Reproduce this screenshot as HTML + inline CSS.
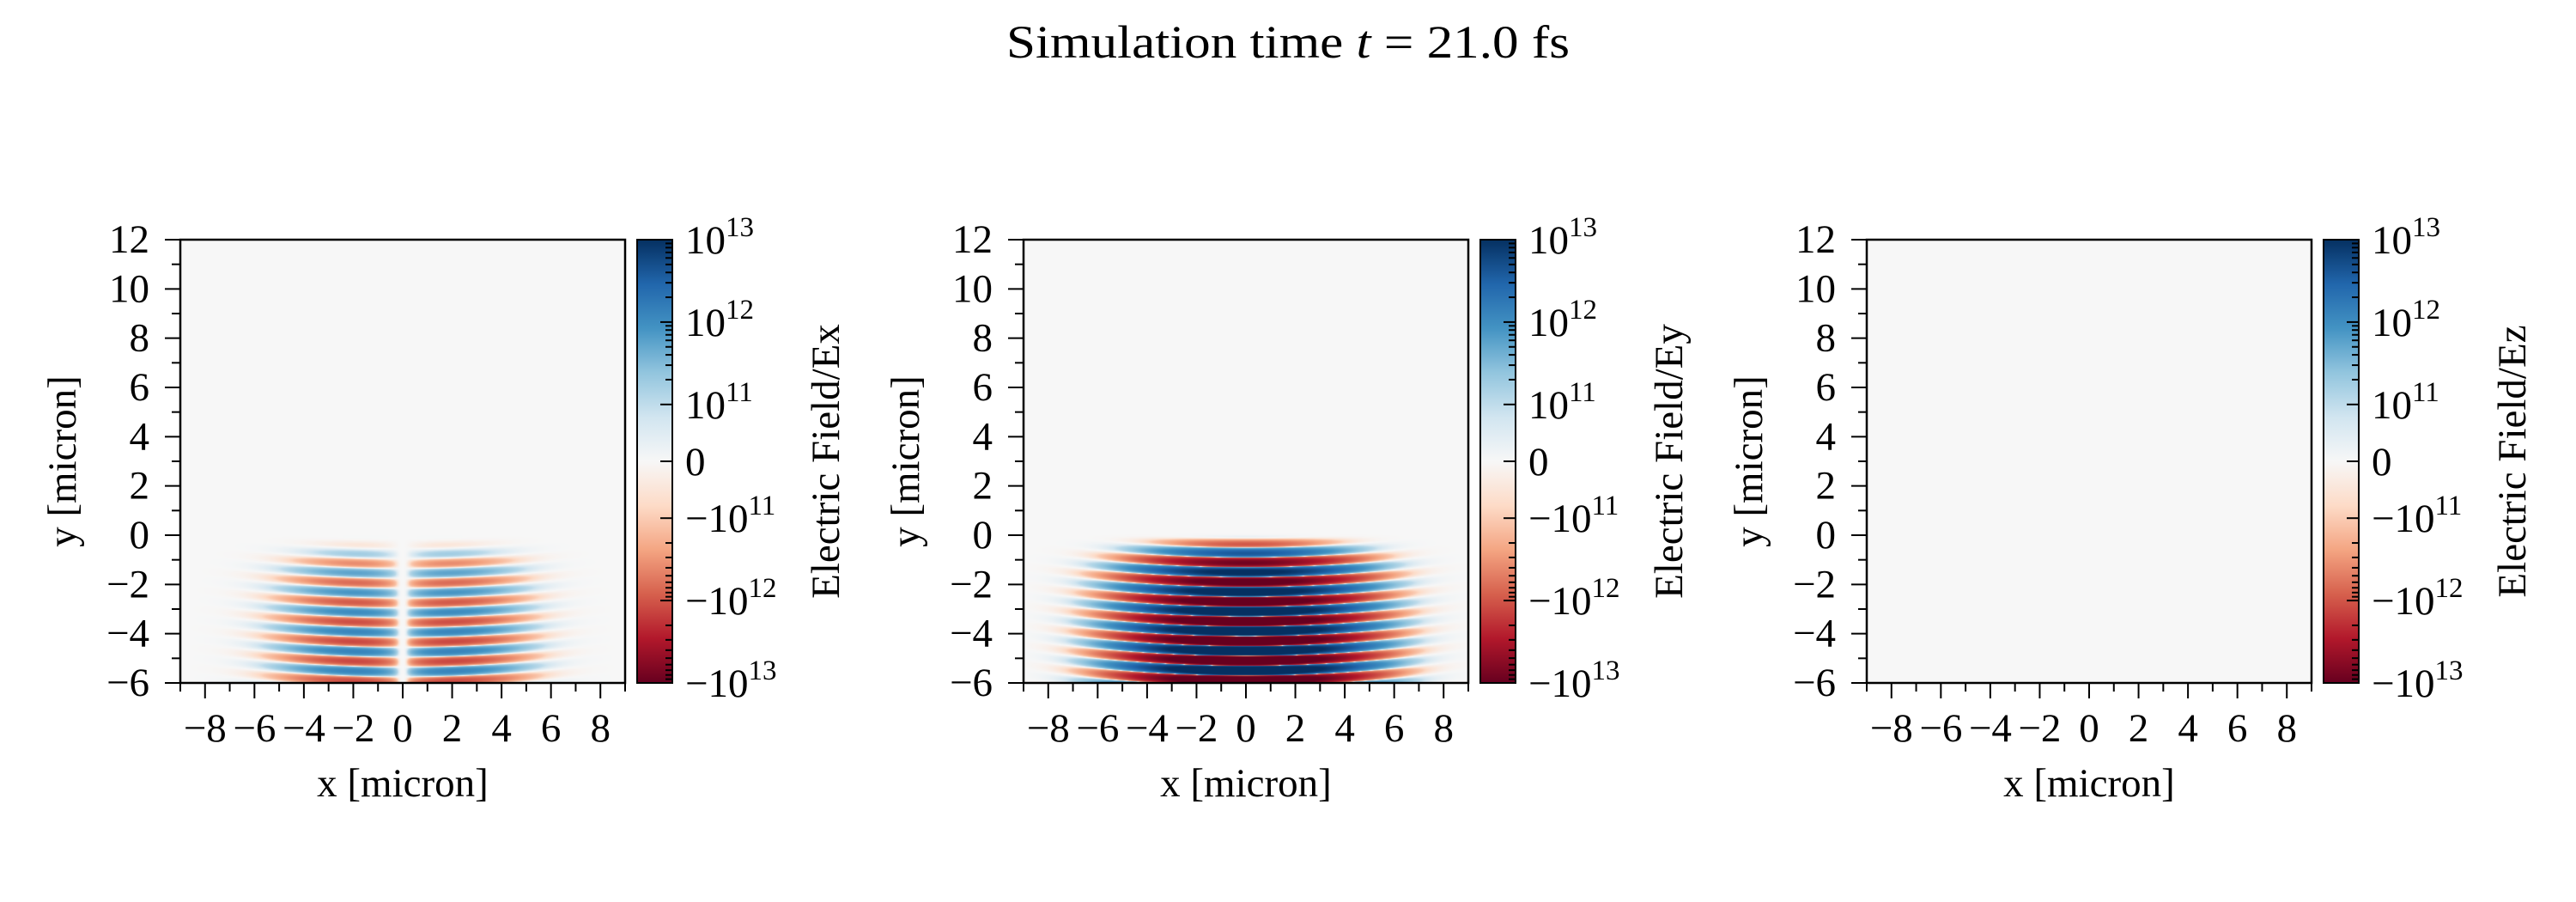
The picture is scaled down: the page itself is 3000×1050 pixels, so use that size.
<!DOCTYPE html>
<html><head><meta charset="utf-8"><style>
html,body{margin:0;padding:0;background:#fff;}
#wrap{position:relative;width:3000px;height:1050px;overflow:hidden;}
svg{position:absolute;left:0;top:0;}
canvas{position:absolute;}
text{font-family:"Liberation Serif",serif;fill:#000;}
</style></head><body><div id="wrap">
<canvas id="c0" width="518" height="516" style="left:210px;top:279px"></canvas>
<canvas id="c1" width="518" height="516" style="left:1192px;top:279px"></canvas>
<canvas id="c2" width="518" height="516" style="left:2174px;top:279px"></canvas>
<svg id="s" width="3000" height="1050" xmlns="http://www.w3.org/2000/svg">
<defs>
<linearGradient id="cm" x1="0" y1="1" x2="0" y2="0">
<stop offset="0" stop-color="#67001f"/><stop offset="0.1" stop-color="#b2182b"/><stop offset="0.2" stop-color="#d6604d"/><stop offset="0.3" stop-color="#f4a582"/><stop offset="0.4" stop-color="#fddbc7"/><stop offset="0.5" stop-color="#f7f7f7"/><stop offset="0.6" stop-color="#d1e5f0"/><stop offset="0.7" stop-color="#92c5de"/><stop offset="0.8" stop-color="#4393c3"/><stop offset="0.9" stop-color="#2166ac"/><stop offset="1" stop-color="#053061"/>
</linearGradient>
</defs>
<text x="1500" y="67" font-size="54" text-anchor="middle" textLength="656" lengthAdjust="spacingAndGlyphs">Simulation time <tspan font-style="italic">t</tspan> = 21.0 fs</text>
<g id="g"></g>
</svg>
</div>
<script>
var NS="http://www.w3.org/2000/svg";
var g=document.getElementById("g");
function el(t,a,txt){var e=document.createElementNS(NS,t);for(var k in a)e.setAttribute(k,a[k]);if(txt!==undefined)e.textContent=txt;g.appendChild(e);return e;}
function line(x1,y1,x2,y2,w){el("line",{x1:x1,y1:y1,x2:x2,y2:y2,stroke:"#000","stroke-width":w||2});}
var L=0.69,TOT=2.69,T0=279,B0=795,H=516;
function tr(v){var a=Math.abs(v),s=v<0?-1:1;if(a<=1e11)return v/1e11*L;return s*(L+Math.log10(a/1e11));}
function cby(v){return 537-tr(v)/TOT*258;}
var names=["Ex","Ey","Ez"];var lefts=[210,1192,2174];
for(var p=0;p<3;p++){
 var X0=lefts[p],X1=X0+518,cx=X0+259;
 for(var yv=-6;yv<=12;yv++){var yy=B0-(yv+6)/18*H;var maj=(yv%2===0);line(X0-(maj?18:10),yy,X0,yy,2);
  if(maj)el("text",{x:X0-36,y:yy+15,"font-size":47,"text-anchor":"end"},(yv<0?"\u2212":"")+Math.abs(yv));}
 for(var xv=-9;xv<=9;xv++){var xx=X0+(xv+9)/18*518;var maj=(xv%2===0);line(xx,B0,xx,B0+(maj?18:10),2);
  if(maj)el("text",{x:xx,y:863,"font-size":47,"text-anchor":"middle"},(xv<0?"\u2212":"")+Math.abs(xv));}
 el("rect",{x:X0,y:T0,width:518,height:H,fill:"none",stroke:"#000","stroke-width":2.5});
 el("text",{x:cx,y:927,"font-size":47,"text-anchor":"middle"},"x [micron]");
 el("text",{x:0,y:0,"font-size":47,"text-anchor":"middle",transform:"translate("+(X0-122)+",537) rotate(-90)"},"y [micron]");
 var C0=X0+532,C1=C0+41;
 el("rect",{x:C0,y:T0,width:41,height:H,fill:"url(#cm)"});
 var majv=[1e13,1e12,1e11,0,-1e11,-1e12,-1e13];
 var labs=[["10","13"],["10","12"],["10","11"],["0",""],["\u221210","11"],["\u221210","12"],["\u221210","13"]];
 for(var i=0;i<7;i++){var yy=cby(majv[i]);line(C1-14,yy,C1,yy,2);
  var t=el("text",{x:C1+15,y:yy+16,"font-size":47});t.textContent=labs[i][0];
  if(labs[i][1]){var ts=document.createElementNS(NS,"tspan");ts.setAttribute("dy","-20");ts.setAttribute("font-size","33");ts.textContent=labs[i][1];t.appendChild(ts);}}
 for(var d=11;d<13;d++)for(var k=2;k<10;k++){var v=k*Math.pow(10,d);line(C1-8,cby(v),C1,cby(v),2);line(C1-8,cby(-v),C1,cby(-v),2);}
 el("rect",{x:C0,y:T0,width:41,height:H,fill:"none",stroke:"#000","stroke-width":2});
 el("text",{x:0,y:0,"font-size":47,"text-anchor":"middle",transform:"translate("+(C1+194)+",537) rotate(-90)"},"Electric Field/"+names[p]);
}
var stops=[[103,0,31],[178,24,43],[214,96,77],[244,165,130],[253,219,199],[247,247,247],[209,229,240],[146,197,222],[67,147,195],[33,102,172],[5,48,97]];
function cmap(t){t=Math.max(0,Math.min(1,t))*10;var i=Math.min(9,Math.floor(t)),f=t-i;var a=stops[i],b=stops[i+1];return [a[0]+(b[0]-a[0])*f,a[1]+(b[1]-a[1])*f,a[2]+(b[2]-a[2])*f];}
function norm(v){return 0.5+0.5*tr(Math.max(-1e13,Math.min(1e13,v)))/TOT;}
var kk=2*Math.PI/0.8;
function field(p,x,y){
 if(p===2||y>0.05)return 0;
 var front=Math.min(1,(-y+0.05)/1.6);front=front*front*(3-2*front);
 var amp=3e13*front*Math.exp(-Math.pow((y+4.8)/3.6,2));
 var w=3.0;
 var gx=Math.exp(-(x/w)*(x/w));
 var ph=kk*(y+0.3-0.008*x*x);
 if(p===1)return -amp*gx*Math.cos(ph);
 var ax=Math.abs(x);var we=2.8;var ge=Math.exp(-(x/we)*(x/we));
 return -0.1*amp*(ax/we)*ge*Math.cos(ph+0.4)*(1-Math.exp(-ax*ax*20));
}
for(var p=0;p<3;p++){
 var cv=document.getElementById("c"+p),ctx=cv.getContext("2d"),im=ctx.createImageData(518,516),D=im.data;
 for(var j=0;j<516;j++){var y=12-(j+0.5)/516*18;
  for(var i=0;i<518;i++){var x=-9+(i+0.5)/518*18;var c=cmap(norm(field(p,x,y)));var o=(j*518+i)*4;D[o]=c[0];D[o+1]=c[1];D[o+2]=c[2];D[o+3]=255;}}
 ctx.putImageData(im,0,0);
}
</script>
</body></html>
